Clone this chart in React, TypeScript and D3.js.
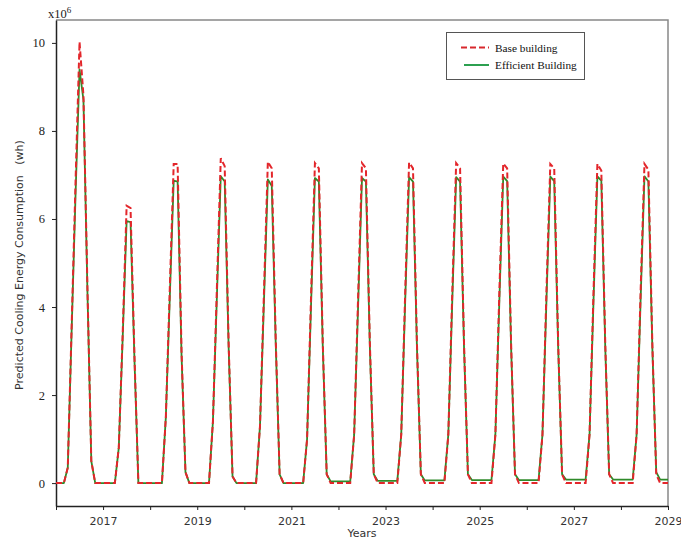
import React, { useEffect, useRef } from 'react';
import * as d3 from 'd3';

// monthly values (x10^6 Wh), Jan 2016 .. Jan 2029
const baseBuilding: number[] = [
  0, 0, 0, 0.35, 3.6, 6.9, 10.02, 8.8, 4.5, 0.5, 0, 0, // 2016
  0, 0, 0, 0, 0.8, 3.4, 6.3, 6.25, 2.9, 0, 0, 0, // 2017
  0, 0, 0, 0, 1.5, 4.4, 7.25, 7.25, 3.0, 0.25, 0, 0, // 2018
  0, 0, 0, 0, 1.4, 4.4, 7.38, 7.2, 3.2, 0.15, 0, 0, // 2019
  0, 0, 0, 0, 1.3, 4.3, 7.3, 7.15, 3.3, 0.2, 0, 0, // 2020
  0, 0, 0, 0, 1.0, 4.2, 7.27, 7.15, 3.2, 0.2, 0, 0, // 2021
  0, 0, 0, 0, 1.1, 4.2, 7.27, 7.15, 3.2, 0.2, 0, 0, // 2022
  0, 0, 0, 0, 1.1, 4.3, 7.28, 7.15, 3.2, 0.2, 0, 0, // 2023
  0, 0, 0, 0, 1.1, 4.3, 7.27, 7.15, 3.2, 0.2, 0, 0, // 2024
  0, 0, 0, 0, 1.1, 4.3, 7.26, 7.15, 3.2, 0.2, 0, 0, // 2025
  0, 0, 0, 0, 1.1, 4.3, 7.25, 7.15, 3.2, 0.2, 0, 0, // 2026
  0, 0, 0, 0, 1.1, 4.3, 7.25, 7.1, 3.2, 0.2, 0, 0, // 2027
  0, 0, 0, 0, 1.1, 4.3, 7.25, 7.12, 3.2, 0.2, 0, 0, // 2028
  0, // Jan 2029
];

const efficientBuilding: number[] = [
  0, 0, 0, 0.35, 3.5, 6.6, 9.4, 8.7, 4.4, 0.5, 0, 0,
  0, 0, 0, 0, 0.8, 3.3, 5.95, 5.93, 2.8, 0, 0, 0,
  0, 0, 0, 0, 1.5, 4.2, 6.87, 6.85, 2.9, 0.25, 0, 0,
  0, 0, 0, 0, 1.4, 4.2, 6.97, 6.85, 3.1, 0.15, 0, 0,
  0, 0, 0, 0, 1.3, 4.1, 6.9, 6.75, 3.2, 0.2, 0, 0,
  0, 0, 0, 0, 1.0, 4.0, 6.93, 6.85, 3.1, 0.2, 0.04, 0.04,
  0.04, 0.04, 0.04, 0.04, 1.1, 4.0, 6.93, 6.85, 3.1, 0.2, 0.05, 0.05,
  0.05, 0.05, 0.05, 0.05, 1.1, 4.1, 6.95, 6.85, 3.1, 0.2, 0.06, 0.06,
  0.06, 0.06, 0.06, 0.06, 1.1, 4.1, 6.95, 6.85, 3.1, 0.2, 0.07, 0.07,
  0.07, 0.07, 0.07, 0.07, 1.1, 4.1, 6.96, 6.86, 3.1, 0.2, 0.07, 0.07,
  0.07, 0.07, 0.07, 0.07, 1.1, 4.1, 6.96, 6.86, 3.1, 0.2, 0.08, 0.08,
  0.08, 0.08, 0.08, 0.08, 1.1, 4.1, 6.97, 6.87, 3.1, 0.2, 0.08, 0.08,
  0.08, 0.08, 0.08, 0.08, 1.1, 4.1, 6.97, 6.85, 3.1, 0.25, 0.08, 0.08,
  0.08,
];

const startYear = 2016;
const yearTicks = [2016, 2017, 2018, 2019, 2020, 2021, 2022, 2023, 2024, 2025, 2026, 2027, 2028, 2029];
const yTicks = [0, 2, 4, 6, 8, 10];

const width = 681;
const height = 540;
const margin = { top: 20, right: 12, bottom: 34, left: 56 };

const App = () => {
  const svgRef = useRef<SVGSVGElement>(null);

  useEffect(() => {
    const svg = d3.select(svgRef.current);
    svg.selectAll('*').remove();

    const x = d3
      .scaleLinear()
      .domain([2016, 2029])
      .range([margin.left, width - margin.right - 1]);

    const y = d3
      .scaleLinear()
      .domain([-0.52, 10.52])
      .range([height - margin.bottom, margin.top]);

    const monthX = (i: number) => x(startYear + i / 12);

    // frame (top/right grey)
    svg
      .append('path')
      .attr('d', `M${x(2016)},${y(10.52)}H${x(2029)}V${y(-0.52)}`)
      .attr('fill', 'none')
      .attr('stroke', '#888')
      .attr('stroke-width', 1.5);

    // bottom axis
    const xAxis = svg
      .append('g')
      .attr('transform', `translate(0,${y(-0.52)})`)
      .call(
        d3
          .axisBottom(x)
          .tickValues(yearTicks)
          .tickSize(4)
          .tickSizeOuter(0)
          .tickFormat((d) => ((d as number) % 2 === 1 ? String(d) : ''))
      );
    xAxis.select('.domain').attr('stroke', '#222').attr('stroke-width', 1.5);
    xAxis.selectAll('.tick line').attr('stroke', '#222');
    xAxis
      .selectAll('text')
      .attr('font-family', 'DejaVu Sans, sans-serif')
      .attr('font-size', 11)
      .attr('fill', '#333')
      .attr('dy', '1.05em');

    // left axis
    const yAxis = svg
      .append('g')
      .attr('transform', `translate(${x(2016)},0)`)
      .call(d3.axisLeft(y).tickValues(yTicks).tickSize(4).tickSizeOuter(0));
    yAxis.select('.domain').attr('stroke', '#222').attr('stroke-width', 1.5);
    yAxis.selectAll('.tick line').attr('stroke', '#222');
    yAxis
      .selectAll('text')
      .attr('font-family', 'Liberation Serif, serif')
      .attr('font-size', 12.5)
      .attr('fill', '#222')
      .attr('x', -11);

    const lineGen = d3
      .line<number>()
      .x((_, i) => monthX(i))
      .y((d) => y(d));

    svg
      .append('path')
      .datum(efficientBuilding)
      .attr('d', lineGen)
      .attr('fill', 'none')
      .attr('stroke', '#2f8a2a')
      .attr('stroke-width', 1.8)
      .attr('stroke-linejoin', 'round');

    svg
      .append('path')
      .datum(baseBuilding)
      .attr('d', lineGen)
      .attr('fill', 'none')
      .attr('stroke', '#e3262b')
      .attr('stroke-width', 2)
      .attr('stroke-dasharray', '6,3');

    // multiplier label
    const mult = svg
      .append('text')
      .attr('x', 48)
      .attr('y', 18)
      .attr('font-family', 'Liberation Serif, serif')
      .attr('font-size', 12.5)
      .attr('fill', '#222');
    mult.append('tspan').text('x10');
    mult.append('tspan').attr('font-size', 9).attr('dy', -5).text('6');

    // axis titles
    svg
      .append('text')
      .attr('transform', `translate(23,${(y(10.52) + y(-0.52)) / 2 + 2}) rotate(-90)`)
      .attr('text-anchor', 'middle')
      .attr('font-family', 'DejaVu Sans, sans-serif')
      .attr('font-size', 11)
      .attr('fill', '#333')
      .style('white-space', 'pre')
      .text('Predicted Cooling Energy Consumption   (wh)');

    svg
      .append('text')
      .attr('x', (x(2016) + x(2029)) / 2)
      .attr('y', 537)
      .attr('text-anchor', 'middle')
      .attr('font-family', 'DejaVu Sans, sans-serif')
      .attr('font-size', 11)
      .attr('fill', '#333')
      .text('Years');

    // legend
    const legend = svg.append('g');
    legend
      .append('rect')
      .attr('x', 446.5)
      .attr('y', 32.5)
      .attr('width', 138)
      .attr('height', 47)
      .attr('fill', 'white')
      .attr('stroke', '#555');
    legend
      .append('line')
      .attr('x1', 461)
      .attr('x2', 489)
      .attr('y1', 47.5)
      .attr('y2', 47.5)
      .attr('stroke', '#d8282d')
      .attr('stroke-width', 2)
      .attr('stroke-dasharray', '6,3');
    legend
      .append('line')
      .attr('x1', 464)
      .attr('x2', 489)
      .attr('y1', 65)
      .attr('y2', 65)
      .attr('stroke', '#2ca050')
      .attr('stroke-width', 2);
    const labels = ['Base building', 'Efficient Building'];
    legend
      .selectAll('text.lbl')
      .data(labels)
      .enter()
      .append('text')
      .attr('class', 'lbl')
      .attr('x', 495)
      .attr('y', (_, i) => 51.5 + i * 17)
      .attr('font-family', 'Liberation Serif, serif')
      .attr('font-size', 11.3)
      .attr('fill', '#111')
      .text((d) => d);
  }, []);

  return (
    <svg
      ref={svgRef}
      width={width}
      height={height}
      style={{ position: 'absolute', left: 0, top: 0, background: 'white' }}
    />
  );
};

export default App;
